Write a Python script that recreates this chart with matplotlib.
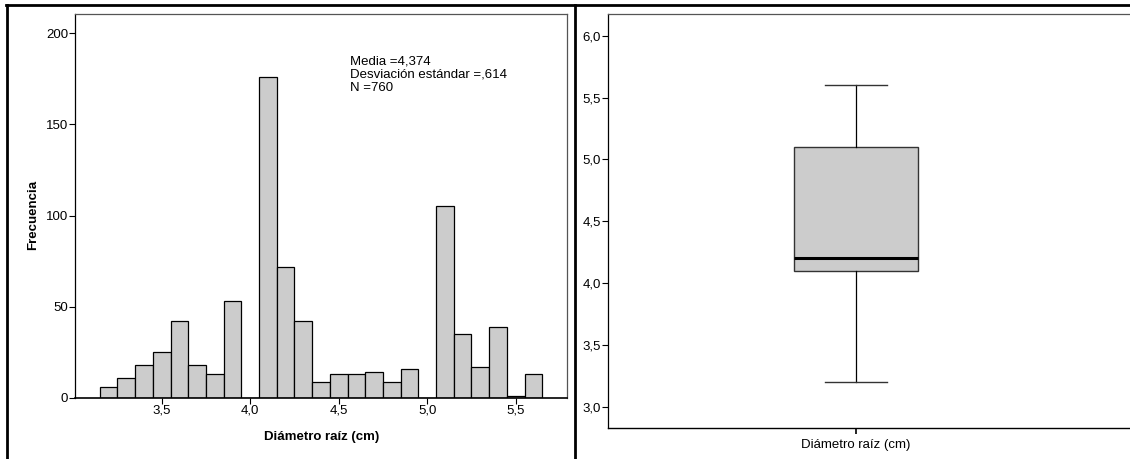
import matplotlib
matplotlib.use("Agg")
import matplotlib.pyplot as plt
from matplotlib.lines import Line2D
from matplotlib.ticker import FuncFormatter

plt.rcParams['font.family'] = ['Liberation Sans', 'DejaVu Sans']

# Histogram data (bin centers, counts)
bin_centers = [3.2, 3.3, 3.4, 3.5, 3.6, 3.7, 3.8, 3.9, 4.0, 4.1, 4.2, 4.3, 4.4,
               4.5, 4.6, 4.7, 4.8, 4.9, 5.0, 5.1, 5.2, 5.3, 5.4, 5.5, 5.6]
counts = [6, 11, 18, 25, 42, 18, 13, 53, 0, 176, 72, 42, 9,
          13, 13, 14, 9, 16, 0, 105, 35, 17, 39, 1, 13]
bin_width = 0.1
stats_lines = ["Media =4,374", "Desviación estándar =,614", "N =760"]

# Boxplot summary
box_label = "Diámetro raíz (cm)"
whisker_low = 3.2
q1 = 4.1
median = 4.2
q3 = 5.1
whisker_high = 5.6

W, H = 1130, 459
fig = plt.figure(figsize=(W / 100, H / 100), dpi=100)

def comma(v, pos):
    return f"{v:.1f}".replace(".", ",")

fill = "#cccccc"

# ---- histogram ----
ax1 = fig.add_axes([75 / W, (H - 398) / H, (567 - 75) / W, (398 - 14) / H])
ax1.bar(bin_centers, counts, width=bin_width, color=fill, edgecolor="black",
        linewidth=0.9)
ax1.set_xlim(3.01, 5.79)
ax1.set_ylim(0, 210.5)
ax1.set_xticks([3.5, 4.0, 4.5, 5.0, 5.5])
ax1.xaxis.set_major_formatter(FuncFormatter(comma))
ax1.set_yticks([0, 50, 100, 150, 200])
ax1.tick_params(axis="both", labelsize=9.5, length=4, width=0.8, pad=1, colors="black")
ax1.set_xlabel("Diámetro raíz (cm)", fontsize=9.5, fontweight="bold", va="center")
ax1.set_ylabel("Frecuencia", fontsize=9.5, fontweight="bold", va="center")
ax1.xaxis.set_label_coords(0.501, -0.102)
ax1.yaxis.set_label_coords(-0.085, 0.477)
for s in ["top", "right"]:
    ax1.spines[s].set_color("#555555")
    ax1.spines[s].set_linewidth(0.9)
ax1.spines["left"].set_linewidth(0.9)
ax1.spines["bottom"].set_linewidth(1.2)
ax1.text((350 - 75) / 492, (398 - 55) / 384, "\n".join(stats_lines),
         transform=ax1.transAxes, ha="left", va="top", fontsize=9.5,
         linespacing=1.15)

# ---- boxplot ----
ax2 = fig.add_axes([608 / W, (H - 428) / H, (1135 - 608) / W, (428 - 14) / H])
stats = [{"whislo": whisker_low, "q1": q1, "med": median, "q3": q3,
          "whishi": whisker_high, "label": box_label}]
ax2.bxp(stats, positions=[1], widths=0.5, showfliers=False, patch_artist=True,
        boxprops=dict(facecolor=fill, edgecolor="#333333", linewidth=1.0),
        medianprops=dict(color="black", linewidth=2.2),
        whiskerprops=dict(color="black", linewidth=0.9),
        capprops=dict(color="#333333", linewidth=1.0))
ax2.set_xlim(0, 2.125)
ax2.set_ylim(2.83, 6.175)
ax2.set_yticks([3.0, 3.5, 4.0, 4.5, 5.0, 5.5, 6.0])
ax2.yaxis.set_major_formatter(FuncFormatter(comma))
ax2.set_xticks([1])
ax2.set_xticklabels([box_label])
ax2.tick_params(axis="both", labelsize=9.5, length=4, width=0.8, pad=1, colors="black")
ax2.tick_params(axis="x", width=1.2, pad=4)
ax2.spines["top"].set_color("#555555")
ax2.spines["top"].set_linewidth(0.9)
ax2.spines["right"].set_visible(False)
ax2.spines["left"].set_linewidth(0.9)
ax2.spines["bottom"].set_linewidth(1.0)

# ---- outer frame lines (pixel coordinates) ----
def fline(xs, ys, lw=2.0):
    fig.add_artist(Line2D([x / W for x in xs], [1 - y / H for y in ys],
                          transform=fig.transFigure, color="black", linewidth=lw))

fline([6, W], [5, 5])
fline([7, 7], [5, H])
fline([575, 575], [5, H])

fig.savefig("out.png", dpi=100)
